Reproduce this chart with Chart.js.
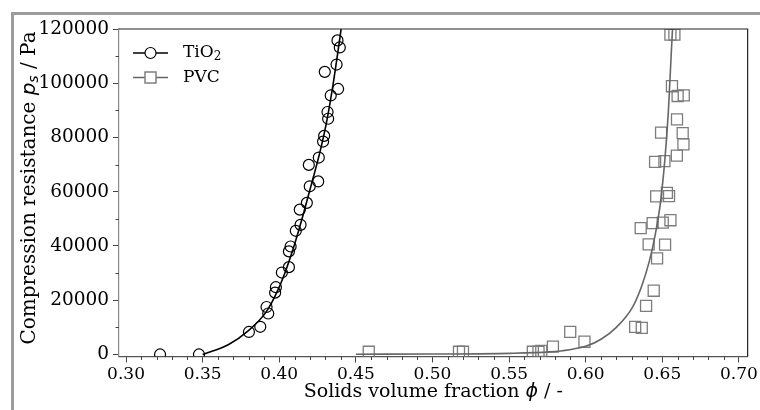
<!DOCTYPE html>
<html>
<head>
<meta charset="utf-8">
<title>Compression resistance</title>
<script src="https://cdn.jsdelivr.net/npm/chart.js@4.4.0/dist/chart.umd.min.js"></script>
<style>
  body { margin: 0; background: #fff; }
</style>
</head>
<body>
<canvas id="myChart" width="760" height="410"></canvas>
<script>
// measured TiO2 points (phi, ps)
const tioPhi = [0.3222, 0.3476, 0.3802, 0.3876, 0.3917, 0.3928, 0.3973, 0.3978, 0.4017, 0.4063,
  0.4063, 0.4074, 0.4108, 0.4139, 0.4134, 0.4180, 0.4199, 0.4193, 0.4254, 0.4258,
  0.4286, 0.4293, 0.4315, 0.4319, 0.4336, 0.4297, 0.4374, 0.4384, 0.4380, 0.4395];
const tioPs = [0, 0, 8300, 10200, 17500, 15100, 22800, 24800, 30200, 32200,
  38000, 39800, 45600, 47800, 53400, 55900, 62000, 69900, 63800, 72600,
  78500, 80600, 89400, 86900, 95500, 104200, 106900, 97900, 115800, 113200];

// measured PVC points
const pvcPhi = [0.4584, 0.5173, 0.5199, 0.5655, 0.5692, 0.5710, 0.5786, 0.5899, 0.5992, 0.6323,
  0.6366, 0.6394, 0.6444, 0.6466, 0.6411, 0.6518, 0.6359, 0.6437, 0.6503, 0.6553,
  0.6460, 0.6530, 0.6544, 0.6453, 0.6514, 0.6595, 0.6638, 0.6633, 0.6492, 0.6596,
  0.6640, 0.6600, 0.6563, 0.6553, 0.6579];
const pvcPs = [1000, 1000, 1000, 1000, 1000, 1300, 2900, 8300, 4700, 10200,
  9800, 17900, 23500, 35400, 40600, 40500, 46600, 48400, 48600, 49500,
  58300, 59600, 58400, 71000, 71300, 73300, 77500, 81600, 81800, 86700,
  95500, 95300, 98900, 117900, 117900];

// fitted curves
const tioFitPhi = [0.3500, 0.3667, 0.3797, 0.3917, 0.3993, 0.4048, 0.4102, 0.4156, 0.4211, 0.4265, 0.4308, 0.4351, 0.4402, 0.4412];
const tioFitPs = [0, 3600, 8700, 15900, 24000, 31800, 41000, 51500, 63000, 74500, 85500, 99500, 119300, 123500];
const pvcFitPhi = [0.4500, 0.5000, 0.5500, 0.5764, 0.5894, 0.6005, 0.6100, 0.6200, 0.6305, 0.6364, 0.6416, 0.6455, 0.6488, 0.6517, 0.6540, 0.6566, 0.6575];
const pvcFitPs = [100, 170, 400, 950, 1750, 3100, 5600, 10000, 17400, 25000, 34500, 44500, 56000, 72000, 90000, 119500, 127000];

const xTicks = [0.30, 0.35, 0.40, 0.45, 0.50, 0.55, 0.60, 0.65, 0.70];
const yTicks = [0, 20000, 40000, 60000, 80000, 100000, 120000];

const pts = (xs, ys) => xs.map((v, i) => ({ x: v, y: ys[i] }));
const minorOf = (major, n) => {
  const out = [];
  for (let i = 0; i < major.length - 1; i++)
    for (let k = 1; k < n; k++) out.push(major[i] + (major[i + 1] - major[i]) * k / n);
  return out;
};
const xMinor = minorOf(xTicks, 5);
const yMinor = minorOf(yTicks, 2);

const SERIF = "'DejaVu Serif', serif";
const MATH = "'DejaVu Sans', sans-serif";

// draw a run of text pieces: [text, font, dy]
function drawRun(ctx, parts, cx, cy) {
  let total = 0;
  parts.forEach(p => { ctx.font = p[1]; total += ctx.measureText(p[0]).width; });
  let x = cx - total / 2;
  parts.forEach(p => {
    ctx.font = p[1];
    ctx.fillText(p[0], x, cy + (p[2] || 0));
    x += ctx.measureText(p[0]).width;
  });
}

const extras = {
  id: 'extras',
  beforeDraw(chart) {
    const ctx = chart.ctx;
    ctx.save();
    ctx.fillStyle = '#fff';
    ctx.fillRect(0, 0, chart.width, chart.height);
    ctx.fillStyle = '#9c9c9c';
    ctx.fillRect(11, 12, 3, chart.height - 12);
    ctx.fillRect(11, 12, chart.width - 11, 3);
    ctx.restore();
  },
  afterDraw(chart) {
    const { ctx, chartArea: a, scales: { x, y } } = chart;
    ctx.save();
    // top and right spines
    ctx.strokeStyle = '#222';
    ctx.lineWidth = 1.2;
    ctx.beginPath();
    ctx.moveTo(a.left, a.top);
    ctx.lineTo(a.right, a.top);
    ctx.lineTo(a.right, a.bottom);
    ctx.stroke();
    // minor ticks
    ctx.strokeStyle = '#444';
    ctx.lineWidth = 1;
    ctx.beginPath();
    xMinor.forEach(v => {
      const px = Math.round(x.getPixelForValue(v)) + 0.5;
      ctx.moveTo(px, a.bottom); ctx.lineTo(px, a.bottom + 3.5);
    });
    yMinor.forEach(v => {
      const py = Math.round(y.getPixelForValue(v)) + 0.5;
      ctx.moveTo(a.left, py); ctx.lineTo(a.left - 3.5, py);
    });
    ctx.stroke();

    // legend
    const lx = a.left + 14, ly1 = 53, ly2 = 77.5;
    ctx.lineWidth = 1.5;
    ctx.strokeStyle = '#000';
    ctx.beginPath(); ctx.moveTo(lx, ly1); ctx.lineTo(lx + 35, ly1); ctx.stroke();
    ctx.beginPath(); ctx.arc(lx + 17.5, ly1, 5.5, 0, Math.PI * 2); ctx.fillStyle = '#fff'; ctx.fill(); ctx.lineWidth = 1.2; ctx.stroke();
    ctx.strokeStyle = '#666';
    ctx.lineWidth = 1.5;
    ctx.beginPath(); ctx.moveTo(lx, ly2); ctx.lineTo(lx + 35, ly2); ctx.stroke();
    ctx.strokeStyle = '#808080';
    ctx.fillStyle = '#fff';
    ctx.fillRect(lx + 12, ly2 - 5.5, 11, 11);
    ctx.strokeRect(lx + 12, ly2 - 5.5, 11, 11);

    ctx.fillStyle = '#000';
    ctx.textBaseline = 'middle';
    ctx.textAlign = 'left';
    ctx.font = '17px ' + SERIF;
    ctx.fillText('TiO', lx + 50, ly1);
    const w = ctx.measureText('TiO').width;
    ctx.font = '12px ' + SERIF;
    ctx.fillText('2', lx + 50 + w, ly1 + 4);
    ctx.font = '17px ' + SERIF;
    ctx.fillText('PVC', lx + 50, ly2);

    // axis titles
    drawRun(ctx, [
      ['Solids volume fraction ', '19px ' + SERIF],
      ['\u03d5', 'italic 19px ' + MATH],
      [' / -', '19px ' + SERIF]
    ], (a.left + a.right) / 2, 392);

    ctx.translate(30, 188);
    ctx.rotate(-Math.PI / 2);
    drawRun(ctx, [
      ['Compression resistance ', '20px ' + SERIF],
      ['p', 'italic 20px ' + MATH],
      ['s', 'italic 14px ' + MATH, 4],
      [' / Pa', '20px ' + SERIF]
    ], 0, 0);
    ctx.restore();
  }
};

const config = {
  type: 'scatter',
  data: {
    datasets: [
      {
        label: 'TiO2 fit', data: pts(tioFitPhi, tioFitPs), showLine: true,
        borderColor: '#000', borderWidth: 1.6, pointRadius: 0,
        cubicInterpolationMode: 'monotone', clip: 0
      },
      {
        label: 'TiO2', data: pts(tioPhi, tioPs), pointStyle: 'circle', pointRadius: 5.5,
        borderColor: '#000', borderWidth: 1.2, backgroundColor: 'rgba(0,0,0,0)', clip: 0
      },
      {
        label: 'PVC fit', data: pts(pvcFitPhi, pvcFitPs), showLine: true,
        borderColor: '#666', borderWidth: 1.6, pointRadius: 0,
        cubicInterpolationMode: 'monotone', clip: 0
      },
      {
        label: 'PVC', data: pts(pvcPhi, pvcPs), pointStyle: 'rect', pointRadius: 7.8,
        borderColor: '#7c7c7c', borderWidth: 1.3, backgroundColor: 'rgba(0,0,0,0)', clip: 0
      }
    ]
  },
  options: {
    responsive: false,
    animation: false,
    events: [],
    layout: { padding: { left: 0, top: 29, right: 12, bottom: 0 } },
    plugins: { legend: { display: false }, tooltip: { enabled: false } },
    scales: {
      x: {
        type: 'linear', min: 0.2954, max: 0.7057,
        afterBuildTicks: s => { s.ticks = xTicks.map(v => ({ value: v })); },
        afterFit: s => { s.height = 53.5; },
        ticks: { callback: v => v.toFixed(2), font: { family: SERIF, size: 17 }, color: '#000', padding: 2, maxRotation: 0, autoSkip: false },
        grid: { drawOnChartArea: false, tickLength: 6, tickColor: '#444' },
        border: { color: '#555', width: 1.2 }
      },
      y: {
        type: 'linear', min: -750, max: 120000,
        afterBuildTicks: s => { s.ticks = yTicks.map(v => ({ value: v })); },
        afterFit: s => { s.width = 119; },
        ticks: { callback: v => String(v), font: { family: SERIF, size: 18.5 }, color: '#000', padding: 4, autoSkip: false },
        grid: { drawOnChartArea: false, tickLength: 6, tickColor: '#444' },
        border: { color: '#888', width: 1.2 }
      }
    }
  },
  plugins: [extras]
};

const myChart = new Chart(document.getElementById('myChart'), config);
</script>
</body>
</html>
